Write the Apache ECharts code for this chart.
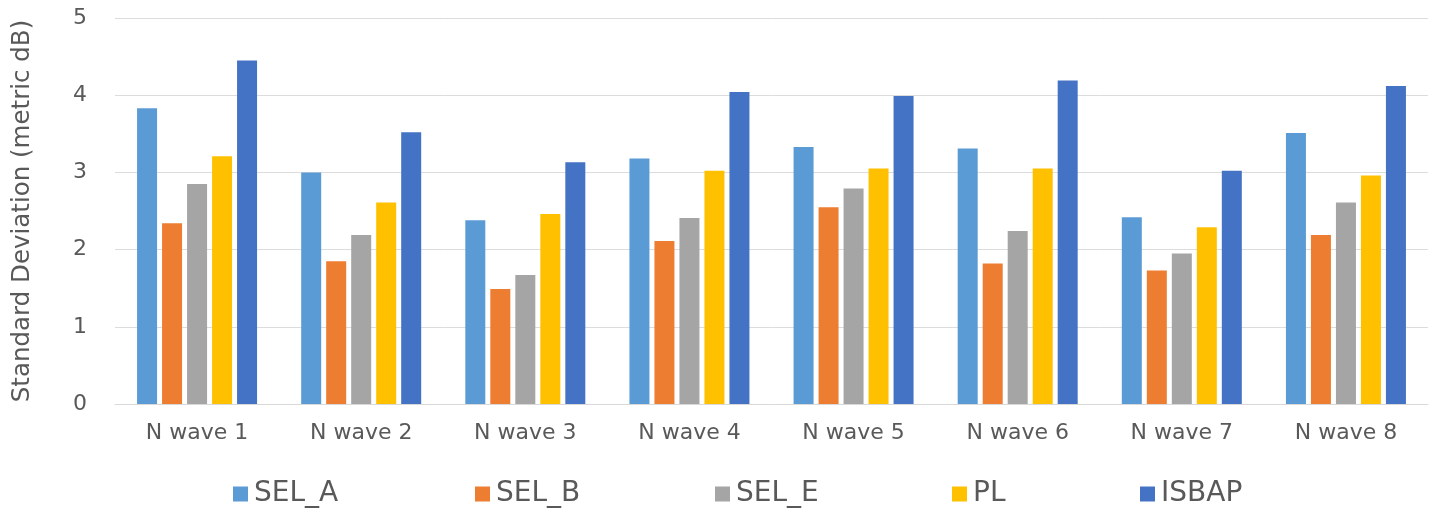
<!DOCTYPE html>
<html>
<head>
<meta charset="utf-8">
<title>Standard Deviation by N wave</title>
<script src="https://cdn.jsdelivr.net/npm/echarts@6/dist/echarts.min.js"></script>
<style>
  html, body { margin: 0; padding: 0; background: #ffffff; }
  #chart { width: 1432px; height: 515px; }
</style>
</head>
<body>
<div id="chart"></div>
<script>
// Categories and per-metric standard deviations (metric dB)
const categories = ['N wave 1', 'N wave 2', 'N wave 3', 'N wave 4', 'N wave 5', 'N wave 6', 'N wave 7', 'N wave 8'];
const selA  = [3.83, 3.00, 2.38, 3.18, 3.33, 3.31, 2.42, 3.51];
const selB  = [2.34, 1.85, 1.49, 2.11, 2.55, 1.82, 1.73, 2.19];
const selE  = [2.85, 2.19, 1.67, 2.41, 2.79, 2.24, 1.95, 2.61];
const pl    = [3.21, 2.61, 2.46, 3.02, 3.05, 3.05, 2.29, 2.96];
const isbap = [4.45, 3.52, 3.13, 4.04, 3.99, 4.19, 3.02, 4.12];
const seriesNames = ['SEL_A', 'SEL_B', 'SEL_E', 'PL', 'ISBAP'];
const yAxisName = 'Standard Deviation (metric dB)';

const colors = ['#5B9BD5', '#ED7D31', '#A5A5A5', '#FFC000', '#4472C4'];
const seriesData = [selA, selB, selE, pl, isbap];
const textColor = '#595959';
const font = '"DejaVu Sans", sans-serif';

// one legend block per entry so each sits at its own column
const legendLefts = [233, 475, 715, 952, 1140];
const legends = seriesNames.map((name, i) => ({
  data: [name],
  left: legendLefts[i],
  top: 480,
  itemWidth: 15,
  itemHeight: 15,
  itemGap: 0,
  padding: 0,
  icon: 'rect',
  textStyle: { color: textColor, fontSize: 28, fontFamily: font, padding: [0, 0, 0, 1] }
}));

const chart = echarts.init(document.getElementById('chart'), null, { renderer: 'canvas' });
chart.setOption({
  animation: false,
  backgroundColor: '#ffffff',
  color: colors,
  legend: legends,
  grid: { left: 115, right: 4, top: 18, bottom: 111, containLabel: false },
  xAxis: {
    type: 'category',
    data: categories,
    axisLine: { show: true, lineStyle: { color: '#D9D9D9', width: 1 } },
    axisTick: { show: false },
    axisLabel: { color: textColor, fontSize: 22, fontFamily: font, margin: 18 }
  },
  yAxis: {
    type: 'value',
    min: 0,
    max: 5,
    interval: 1,
    name: yAxisName,
    nameLocation: 'middle',
    nameGap: 80,
    nameTextStyle: { color: textColor, fontSize: 24.5, fontFamily: font },
    axisLine: { show: false },
    axisTick: { show: false },
    axisLabel: { color: textColor, fontSize: 22, fontFamily: font, margin: 28 },
    splitLine: { show: true, lineStyle: { color: '#DCDCDC', width: 1 } }
  },
  series: seriesNames.map((name, i) => ({
    name: name,
    type: 'bar',
    data: seriesData[i],
    barWidth: 20,
    barGap: '25%',
    itemStyle: { color: colors[i] }
  }))
});
</script>
</body>
</html>
